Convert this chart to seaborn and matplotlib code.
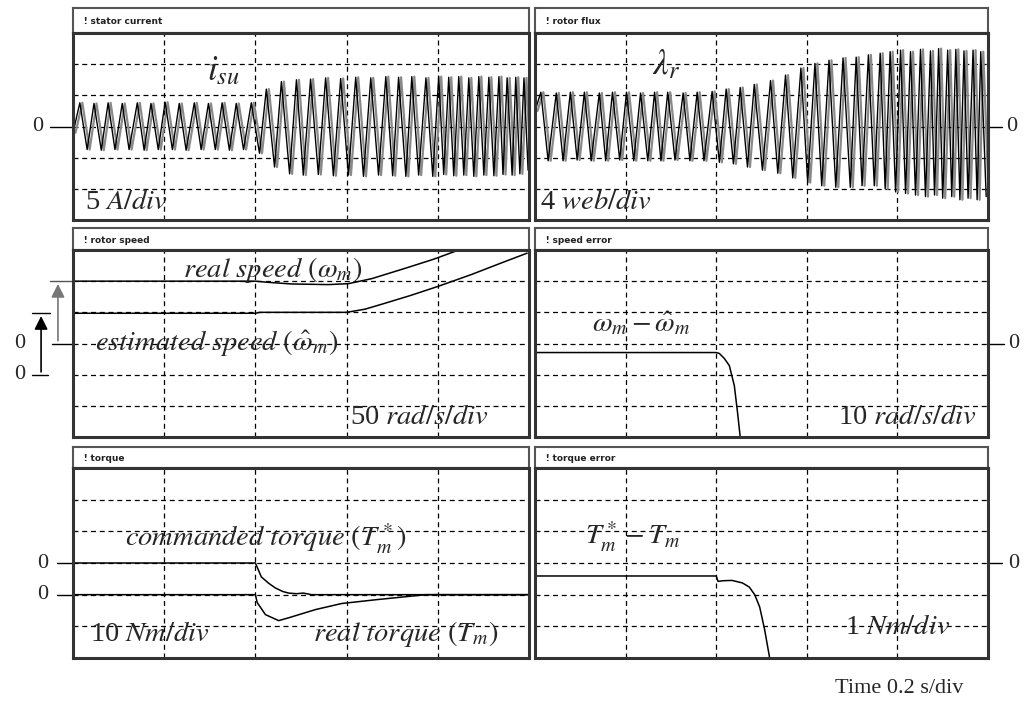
import matplotlib.pyplot as plt
import matplotlib.transforms as mtransforms
import seaborn as sns

W, H = 1034, 706

# time base: 0.2 s/div, 5 divisions on screen
t_div = 0.2

# stator current i_su (A, 5 A/div): peak/trough points
isu_t = [0.000, 0.015, 0.031, 0.046, 0.062, 0.077, 0.092, 0.108, 0.123, 0.141, 0.156,
         0.171, 0.187, 0.202, 0.218, 0.233, 0.248, 0.266, 0.281, 0.297, 0.312, 0.327,
         0.343, 0.358, 0.374, 0.391, 0.409,
         0.424, 0.442, 0.457, 0.475, 0.490, 0.505, 0.521, 0.538, 0.554, 0.571, 0.587,
         0.604, 0.620, 0.637, 0.653, 0.670, 0.686, 0.701, 0.714, 0.730, 0.743, 0.758,
         0.774, 0.789, 0.802, 0.813, 0.824, 0.835, 0.846, 0.857, 0.868, 0.879, 0.890,
         0.901, 0.912, 0.923, 0.934, 0.943, 0.952, 0.963, 0.971, 0.980, 0.989, 0.998]
isu_v = [-1.0, 3.8, -3.7, 3.7, -3.8, 3.8, -3.7, 3.7, -3.7, 3.8, -3.8, 3.7, -3.7, 3.9,
         -3.7, 3.7, -3.8, 3.8, -3.7, 3.7, -3.7, 3.8, -3.8, 3.7, -3.7, 3.8, -4.3,
         6.0, -6.5, 7.2, -7.6, 7.5, -7.8, 7.6, -7.7, 7.8, -7.9, 7.7, -7.8, 7.9, -8.0,
         7.8, -7.8, 8.0, -7.9, 7.9, -8.0, 8.0, -7.8, 7.8, -8.0, 8.0, -7.7, 7.9, -7.9,
         8.0, -7.8, 7.8, -8.0, 8.0, -7.8, 7.9, -7.9, 8.0, -7.7, 7.8, -7.8, 7.9, -7.6,
         7.8, -7.0]

# rotor flux lambda_r (web, 4 web/div)
lam_t = [0.000, 0.013, 0.029, 0.047, 0.062, 0.078, 0.093, 0.109, 0.124, 0.142, 0.156,
         0.171, 0.187, 0.202, 0.218, 0.233, 0.249, 0.264, 0.278, 0.293, 0.309, 0.327,
         0.342, 0.358, 0.373, 0.391, 0.407, 0.422, 0.438, 0.453, 0.469, 0.484, 0.502,
         0.520, 0.536, 0.553, 0.569, 0.587, 0.602, 0.618, 0.633, 0.649, 0.664, 0.680,
         0.696, 0.709, 0.722, 0.736, 0.749, 0.762, 0.773, 0.784, 0.796, 0.807, 0.818,
         0.829, 0.840, 0.851, 0.862, 0.873, 0.882, 0.891, 0.900, 0.911, 0.920, 0.929,
         0.938, 0.947, 0.956, 0.967, 0.976, 0.984, 0.996]
lam_v = [2.0, 4.4, -4.4, 4.3, -4.4, 4.4, -4.3, 4.4, -4.4, 4.3, -4.4, 4.4, -4.3, 4.4,
         -4.4, 4.3, -4.4, 4.4, -4.4, 4.4, -4.3, 4.3, -4.4, 4.4, -4.4, 4.5, -4.6,
         4.8, -4.8, 5.0, -5.2, 5.4, -5.6, 5.9, -6.0, 6.6, -6.6, 7.5, -7.2, 8.1, -7.6,
         8.5, -7.8, 8.8, -7.8, 8.9, -7.6, 9.2, -7.6, 9.4, -8.0, 9.6, -8.4, 9.8, -8.6,
         9.6, -8.8, 9.9, -9.0, 9.7, -8.8, 10.0, -9.2, 9.8, -9.0, 9.9, -9.4, 9.7, -9.2,
         9.8, -9.4, 9.6, -9.0]

# rotor speed (rad/s, 50 rad/s/div)
spd_real_t = [0.000, 0.400, 0.430, 0.480, 0.560, 0.604, 0.655, 0.730, 0.790, 0.846, 1.000]
spd_real_v = [100, 100, 98, 95.5, 94.5, 96, 104, 121, 135, 150, 150]
spd_est_t = [0.000, 0.400, 0.410, 0.600, 0.640, 0.677, 0.740, 0.802, 0.875, 0.935, 0.996]
spd_est_v = [98.5, 98.5, 100, 100, 105, 113, 127, 142, 161, 178, 195]

# speed error (rad/s, 10 rad/s/div)
spd_err_t = [0.000, 0.400, 0.407, 0.418, 0.429, 0.440, 0.447, 0.453, 1.000]
spd_err_v = [-2.9, -2.9, -3.2, -4.8, -7.1, -13.5, -22.0, -30.0, -30.0]

# torque (Nm, 10 Nm/div)
tq_cmd_t = [0.000, 0.400, 0.413, 0.430, 0.444, 0.460, 0.473, 0.490, 0.505, 0.523, 1.000]
tq_cmd_v = [0, 0, -4.4, -6.5, -7.9, -9.0, -9.5, -9.7, -9.5, -10.0, -10.0]
tq_real_t = [0.000, 0.400, 0.404, 0.422, 0.451, 0.473, 0.532, 0.589, 0.664, 0.774, 1.000]
tq_real_v = [0, 0, -2.5, -6.3, -8.2, -7.3, -4.7, -2.8, -1.6, 0, 0]

# torque error (Nm, 1 Nm/div)
tq_err_t = [0.000, 0.400, 0.404, 0.415, 0.435, 0.458, 0.473, 0.485, 0.496, 0.507, 0.518, 1.000]
tq_err_v = [-0.41, -0.41, -0.58, -0.56, -0.55, -0.63, -0.76, -1.0, -1.39, -2.11, -3.0, -3.0]

sns.set_style("white")
plt.rcParams['font.family'] = ['Liberation Serif', 'DejaVu Serif']
plt.rcParams['mathtext.fontset'] = 'stix'

fig = plt.figure(figsize=(W / 100, H / 100), dpi=100)

COLS = [(73, 529), (535, 988)]
ROWS = [(8, 33, 220), (228, 250, 437), (447, 468, 658)]


def add_px_axes(x0, y0, x1, y1):
    return fig.add_axes([x0 / W, 1 - y1 / H, (x1 - x0) / W, (y1 - y0) / H])


def make_panel(col, row, title, lo, hi):
    x0, x1 = COLS[col]
    ys, yp, yb = ROWS[row]
    strip = add_px_axes(x0, ys, x1, yp)
    strip.set_xticks([])
    strip.set_yticks([])
    for s in strip.spines.values():
        s.set_linewidth(1.5)
        s.set_color('#555555')
    strip.text(0.025, 0.45, "ǃ " + title, transform=strip.transAxes, va='center',
               ha='left', fontsize=6.5, fontweight='bold', family='DejaVu Sans',
               color='#222222')
    ax = add_px_axes(x0, yp, x1, yb)
    step = (hi - lo) / 6
    ax.set_xlim(0, 5 * t_div)
    ax.set_ylim(lo, hi)
    ax.set_xticks([t_div * k for k in range(1, 5)])
    ax.set_yticks([lo + step * k for k in range(1, 6)])
    ax.tick_params(length=0, labelbottom=False, labelleft=False)
    ax.grid(True, color='k', lw=0.9, ls=(0, (4, 3)))
    for s in ax.spines.values():
        s.set_linewidth(2.2)
        s.set_color('#333333')
    return ax


def trace(ax, t, v, color='k', lw=1.0, **kw):
    sns.lineplot(x=t, y=v, ax=ax, color=color, lw=lw, sort=False, estimator=None, **kw)
    ax.set_xlabel('')
    ax.set_ylabel('')


def zero_mark(ax, y, side, tick=(0.0, 0.05), label_at=0.07):
    tr = mtransforms.blended_transform_factory(ax.transAxes, ax.transData)
    if side == 'left':
        ax.plot([-tick[1], -tick[0]], [y, y], transform=tr, clip_on=False, color='k', lw=1)
        if label_at is not None:
            ax.text(-label_at, y, "0", transform=tr, ha='right', va='center', fontsize=16)
    else:
        ax.plot([1 + tick[0], 1 + tick[1]], [y, y], transform=tr, clip_on=False, color='k', lw=1)
        ax.text(1 + label_at, y, "0", transform=tr, ha='left', va='center', fontsize=16)


def ftext(x, y, s, size=20.5, **kw):
    fig.text(x / W, 1 - y / H, s, fontsize=size, va='baseline', **kw)


# --- stator current
ax1 = make_panel(0, 0, "stator current", -15, 15)
shift1 = mtransforms.offset_copy(ax1.transData, fig=fig, x=2.5, y=0, units='dots')
trace(ax1, isu_t, isu_v, color='#8a8a8a', lw=1.6, transform=shift1)
trace(ax1, isu_t, isu_v, color='k', lw=1.0)
zero_mark(ax1, 0, 'left', tick=(0.0, 0.05), label_at=0.065)

# --- rotor flux
ax2 = make_panel(1, 0, "rotor flux", -12, 12)
shift2 = mtransforms.offset_copy(ax2.transData, fig=fig, x=2.5, y=0, units='dots')
trace(ax2, lam_t, lam_v, color='#8a8a8a', lw=1.6, transform=shift2)
trace(ax2, lam_t, lam_v, color='k', lw=1.0)
zero_mark(ax2, 0, 'right', tick=(0.0, 0.03), label_at=0.04)

# --- rotor speed (estimated trace shown one division lower)
ax3 = make_panel(0, 1, "rotor speed", -150, 150)
est_off = -50
trace(ax3, spd_real_t, spd_real_v, color='k', lw=1.1)
trace(ax3, spd_est_t, [v + est_off for v in spd_est_v], color='k', lw=1.1)
zero_mark(ax3, 0, 'left', tick=(0.0, 0.046), label_at=0.105)
zero_mark(ax3, est_off, 'left', tick=(0.055, 0.09), label_at=0.105)
tr3 = mtransforms.blended_transform_factory(ax3.transAxes, ax3.transData)
ax3.plot([-0.09, -0.05], [spd_est_v[0] + est_off] * 2, transform=tr3, clip_on=False, color='k', lw=1)
ax3.plot([-0.05, 0.0], [spd_real_v[0]] * 2, transform=tr3, clip_on=False, color='#555555', lw=1)
ax3.annotate('', xy=(-0.07, spd_est_v[0] + est_off), xytext=(-0.07, est_off),
             xycoords=tr3, textcoords=tr3, annotation_clip=False,
             arrowprops=dict(arrowstyle='-|>', color='k', lw=1.2, mutation_scale=20))
ax3.annotate('', xy=(-0.033, spd_real_v[0]), xytext=(-0.033, 0),
             xycoords=tr3, textcoords=tr3, annotation_clip=False,
             arrowprops=dict(arrowstyle='-|>', color='#777777', lw=1.2, mutation_scale=20))

# --- speed error
ax4 = make_panel(1, 1, "speed error", -30, 30)
trace(ax4, spd_err_t, spd_err_v, color='k', lw=1.1)
zero_mark(ax4, 0, 'right', tick=(0.0, 0.035), label_at=0.045)

# --- torque (real torque shown one division lower)
ax5 = make_panel(0, 2, "torque", -30, 30)
real_off = -10
trace(ax5, tq_cmd_t, tq_cmd_v, color='k', lw=1.1)
trace(ax5, tq_real_t, [v + real_off for v in tq_real_v], color='k', lw=1.1)
zero_mark(ax5, 0, 'left', tick=(0.0, 0.035), label_at=0.055)
zero_mark(ax5, real_off, 'left', tick=(0.0, 0.035), label_at=0.055)

# --- torque error
ax6 = make_panel(1, 2, "torque error", -3, 3)
trace(ax6, tq_err_t, tq_err_v, color='k', lw=1.1)
zero_mark(ax6, 0, 'right', tick=(0.0, 0.03), label_at=0.045)

# annotations
ftext(207, 80, r"$i_{su}$", size=25)
ftext(85, 209, r"5 $A/div$")
ftext(652, 74, r"$\lambda_r$", size=25)
ftext(540, 209, r"4 $web/div$")
ftext(183, 277, r"$real\ speed\ (\omega_m)$")
ftext(95, 351, r"$estimated\ speed\ (\hat{\omega}_m)$")
ftext(350, 424, r"50 $rad/s/div$")
ftext(592, 331, r"$\omega_m - \hat{\omega}_m$")
ftext(838, 424, r"10 $rad/s/div$")
ftext(125, 547, r"$commanded\ torque\ (T_m^*)$")
ftext(90, 641, r"10 $Nm/div$")
ftext(313, 641, r"$real\ torque\ (T_m)$")
ftext(585, 545, r"$T_m^* - T_m$")
ftext(845, 634, r"1 $Nm/div$")
ftext(835, 693, "Time 0.2 s/div", size=16)

fig.savefig("out.png", dpi=100, facecolor='white')
